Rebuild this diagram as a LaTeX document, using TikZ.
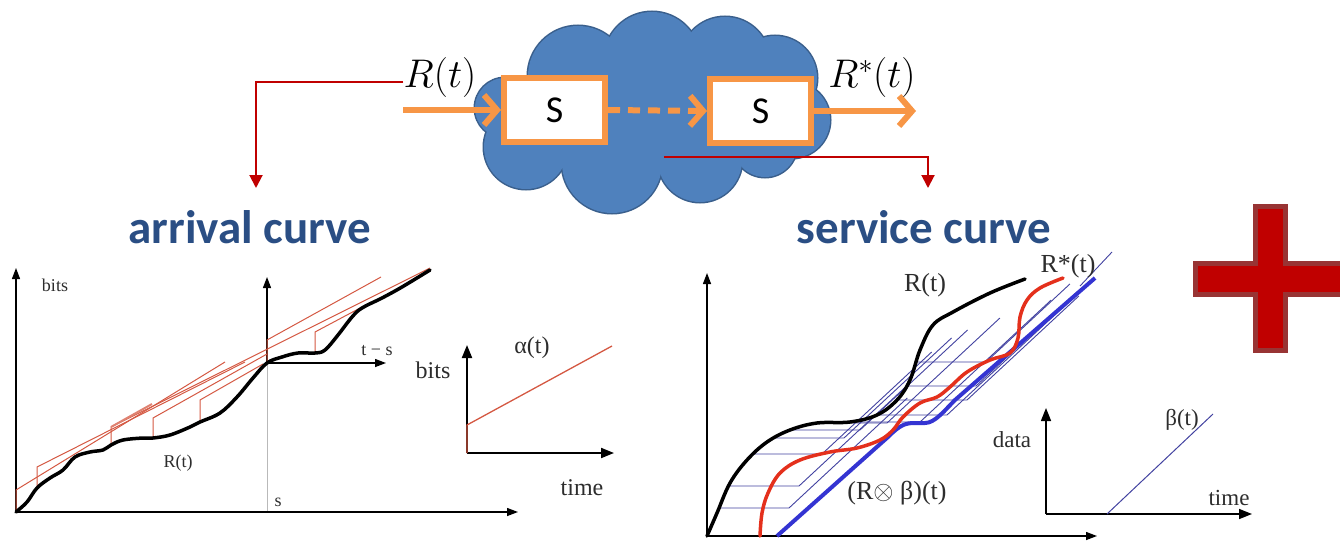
\documentclass[tikz,border=0pt]{standalone}
\usepackage{fix-cm}
\usepackage{fontspec}
\setmainfont{Liberation Serif}
\newfontfamily\calibri{Carlito}
\usetikzlibrary{arrows.meta}

\definecolor{cloudfill}{RGB}{79,129,189}
\definecolor{cloudline}{RGB}{58,95,140}
\definecolor{flow}{RGB}{247,150,70}
\definecolor{linkred}{RGB}{192,0,0}
\definecolor{plusfill}{RGB}{192,0,0}
\definecolor{plusedge}{RGB}{152,52,52}
\definecolor{titleblue}{RGB}{42,78,132}
\definecolor{envred}{RGB}{212,88,66}
\definecolor{thinblue}{RGB}{66,66,160}
\definecolor{thickblue}{RGB}{52,52,210}
\definecolor{outred}{RGB}{228,48,28}
\definecolor{labgray}{RGB}{45,45,45}

\tikzset{
  sbox/.style={draw=flow, line width=6pt, fill=white, minimum width=101pt,
    minimum height=64pt, inner sep=0pt, font=\calibri\fontsize{38}{42}\selectfont},
  flowarrow/.style={draw=flow, line width=6pt, -{Straight Barb[length=13pt,width=30pt]}},
  linkarrow/.style={draw=linkred, line width=2pt, -{Triangle[length=13pt,width=13pt]}},
  title/.style={font=\calibri\bfseries\fontsize{47}{51}\selectfont, text=titleblue, inner sep=0pt},
  axis/.style={line width=1.3pt, -{Triangle[length=11pt,width=8pt]}},
  insetaxis/.style={line width=2pt, -{Triangle[length=13pt,width=10pt]}},
  lab/.style={font=\fontsize{18}{20}\selectfont, text=labgray, inner sep=0pt},
  biglab/.style={font=\fontsize{24}{26}\selectfont, text=labgray, inner sep=0pt},
  envline/.style={draw=envred, line width=1pt},
  curve/.style={line width=3.5pt, line join=round, line cap=round},
  mathlab/.style={font=\fontsize{40}{44}\selectfont, inner sep=0pt},
}

\begin{document}
\begin{tikzpicture}[x=1pt,y=-1pt]
\useasboundingbox (0,0) rectangle (1340,543);

% ---------- network cloud: outline of each puff first, then the fills ----------
\def\puffs{505/108/30, 526/147/42, 578/76/50, 652/60/48, 725/62/45,
  775/78/42, 792/120/38, 765/145/32, 700/160/42, 612/163/50}
\foreach \cx/\cy/\r in \puffs
  \draw[cloudline, line width=3pt] (\cx,\cy) circle[radius=\r pt];
\fill[cloudfill] (505,108) -- (526,147) -- (612,163) -- (700,160) -- (765,145)
  -- (792,120) -- (775,78) -- (725,62) -- (652,60) -- (578,76) -- cycle;
\foreach \cx/\cy/\r in \puffs
  \fill[cloudfill] (\cx,\cy) circle[radius=\r pt];

% ---------- servers and flow ----------
\node[sbox] (s1) at (554.5,110) {S};
\node[sbox] (s2) at (760.5,111) {S};
\coordinate (flowin) at (403,110);
\coordinate (flowout) at (916,111);
\draw[flowarrow] (flowin) -- (s1.west);
\draw[flowarrow, dash pattern=on 12pt off 8pt] (s1.east) -- (s2.west);
\draw[flowarrow] (s2.east) -- (flowout);

\node[mathlab] (rin) at (440,78) {$R(t)$};
\node[mathlab] (rout) at (872,78) {$R^*(t)$};

% ---------- titles and links ----------
\node[title, anchor=base] (arr) at (250,243) {arrival curve};
\node[title, anchor=base] (svc) at (924,243) {service curve};
\coordinate (arrtop) at (256,188);
\coordinate (svcfrom) at (664,157);
\coordinate (svctop) at (928,188);
\draw[linkarrow] ([yshift=-4pt]rin.west) -| (arrtop);
\draw[linkarrow] (svcfrom) -| (svctop);

% ---------- plus sign ----------
\draw[plusedge, fill=plusfill, line width=5pt, line join=miter]
  (1255.5,206.5) -- (1285.5,206.5) -- (1285.5,263.5) -- (1350,263.5)
  -- (1350,294.5) -- (1285.5,294.5) -- (1285.5,350.5) -- (1255.5,350.5)
  -- (1255.5,294.5) -- (1195.5,294.5) -- (1195.5,263.5) -- (1255.5,263.5) -- cycle;

% ---------- arrival curve plot ----------
\draw[gray!55, line width=0.6pt] (267,512) -- (267,363);
\draw[axis] (16,512) -- (16,268);
\draw[axis] (16,512) -- (518,512);
\draw[axis] (267,363) -- (267,277);
\draw[axis] (267,363) -- (386,363);

\draw[envline] (16,512) -- (16,490) -- (225,362);
\draw[envline] (37,487) -- (37,467) -- (245,362);
\draw[envline] (111,443) -- (111,427) -- (430,268);
\draw[envred!75, line width=2pt] (111,427) -- (152,404);
\draw[envline] (153,438) -- (153,418) -- (267,354);
\draw[envline] (200,422) -- (200,400) -- (263,364);
\draw[envline] (267,363) -- (267,340) -- (381,277);
\draw[envline] (315,353) -- (315,332) -- (362,307);

\draw[curve] plot[smooth, tension=0.6] coordinates {
  (16,512) (27,502) (37,488) (50,478) (63,470) (75,457) (90,452) (103,450)
  (111,445) (123,440) (143,438) (153,438) (170,435) (190,427) (200,422)
  (220,413) (237,397) (253,378) (267,363) (282,357) (298,353) (315,353)
  (325,350) (338,335) (352,317) (362,308) (382,298) (402,287) (430,270)};

\node[lab] (bitsA) at (55,285) {bits};
\node[lab] (rtA) at (178,463) {R(t)};
\node[lab] (sA) at (278,502) {s};
\node[lab] (tsA) at (377,351) {t − s};

% inset: arrival curve alpha
\draw[insetaxis] (467,453) -- (467,345);
\draw[insetaxis] (467,453) -- (614,453);
\draw[envline, line width=1.3pt] (467,453) -- (467,425) -- (612,346);
\node[biglab] (bitsB) at (433,370) {bits};
\node[biglab] (alphaB) at (532,348) {α(t)};
\node[biglab] (timeB) at (582,488) {time};

% ---------- service curve plot ----------
\draw[axis] (707,536) -- (707,273);
\draw[axis] (707,536) -- (1097,536);

\foreach \xb/\yb/\yt in {719/508/398, 729/486/382, 752/454/352, 774/438/338,
    790/430/330, 817/423/318, 850/422/300, 877/415/305, 897/400/296,
    906/386/292, 916/362/284}
  \draw[thinblue, line width=0.9pt] (\xb,\yb) -- ++(70,0) -- ++({(\yb-\yt)/0.93},{\yt-\yb});
\draw[thinblue, line width=0.9pt] (1080,286) -- (1112,252);

\draw[thickblue, line width=4pt, line join=round] (777,536) -- (888,437)
  .. controls (900,425) and (905,423) .. (915,423) -- (925,423)
  .. controls (935,423) and (945,410) .. (955,400) -- (1095,278);

\draw[curve] plot[smooth, tension=0.6] coordinates {
  (707,536) (717,513) (730,483) (747,460) (767,442) (790,430) (817,423)
  (850,422) (877,415) (897,400) (910,380) (920,350) (933,325) (953,312)
  (990,293) (1025,279)};

\draw[curve, outred] plot[smooth, tension=0.6] coordinates {
  (760,536) (762,513) (768,493) (780,473) (800,460) (830,452) (857,448)
  (880,440) (893,430) (903,417) (920,403) (937,397) (950,387) (967,372)
  (990,360) (1010,353) (1018,338) (1020,317) (1027,300) (1040,288) (1063,278)};

\node[biglab, font=\fontsize{26}{28}\selectfont] (rtC) at (925,285) {R(t)};
\node[biglab, font=\fontsize{26}{28}\selectfont] (rsC) at (1068,266) {R*(t)};
\node[biglab, font=\fontsize{26}{28}\selectfont] (convC) at (897,493) {(R$\otimes$ β)(t)};

% inset: service curve beta
\draw[insetaxis, line width=1.5pt] (1046,514) -- (1046,408);
\draw[insetaxis, line width=1.5pt] (1046,514) -- (1252,514);
\draw[thinblue, line width=1pt] (1107,514) -- (1213,414);
\node[biglab, font=\fontsize{23}{25}\selectfont] (dataD) at (1012,440) {data};
\node[biglab, font=\fontsize{23}{25}\selectfont] (timeD) at (1229,498) {time};
\node[biglab, font=\fontsize{23}{25}\selectfont] (betaD) at (1182,420) {β(t)};
\end{tikzpicture}
\end{document}
